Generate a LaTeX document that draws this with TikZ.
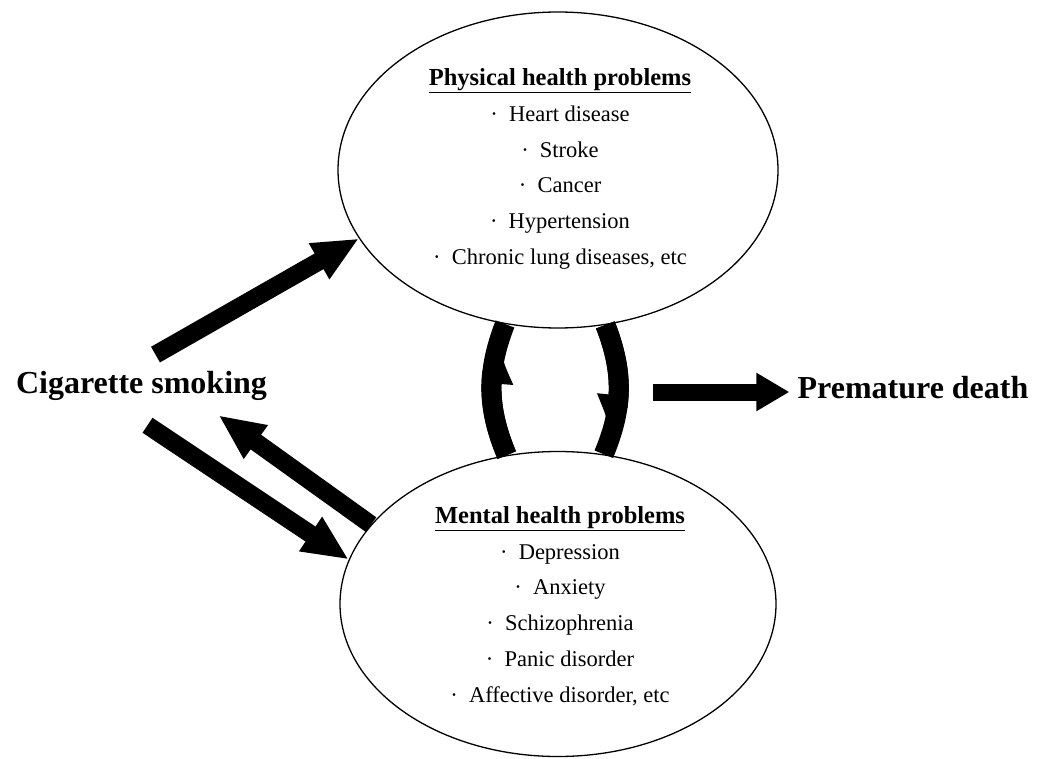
\documentclass[tikz,border=0pt]{standalone}
\usepackage{fontspec}
\setmainfont{Liberation Serif}
\usetikzlibrary{shapes.geometric,arrows.meta,bending,positioning}

\begin{document}
\begin{tikzpicture}[
    x=1pt, y=-1pt,
    problem/.style={
        ellipse, draw, line width=1.3pt,
        minimum width=438pt, minimum height=310pt
    },
    list style/.style={
        align=center, inner sep=0pt,
        font=\fontsize{22.5}{35.8}\selectfont
    },
    big label/.style={
        inner sep=0pt, anchor=base,
        font=\fontsize{32}{38}\selectfont\bfseries
    },
    fat arrow/.style={
        line width=18pt,
        -{Triangle[length=46pt,width=38pt]}
    },
    bent arrow/.style={
        line width=20pt,
        -{Triangle[harpoon,swap,bend,length=50pt,width=38pt]},
        postaction={draw,-}
    }
]

\useasboundingbox (0,0) rectangle (1038,759);

% Ellipses
\node[problem, minimum width=440pt, minimum height=316pt] (physical) at (558,170) {};
\node[problem, minimum width=436pt, minimum height=305pt] (mental) at (558,604) {};

% Lists inside the ellipses
\node[list style] (physicallist) at ([xshift=2pt,yshift=1pt]physical.center) {
    {\fontsize{24.5}{35.8}\selectfont\bfseries\underline{Physical health problems}}\\
    ·~~Heart disease\\
    ·~~Stroke\\
    ·~~Cancer\\
    ·~~Hypertension\\
    ·~~Chronic lung diseases, etc
};

\node[list style] (mentallist) at ([xshift=2pt,yshift=-2pt]mental.center) {
    {\fontsize{24.5}{35.8}\selectfont\bfseries\underline{Mental health problems}}\\
    ·~~Depression\\
    ·~~Anxiety\\
    ·~~Schizophrenia\\
    ·~~Panic disorder\\
    ·~~Affective disorder, etc
};

% Labels left and right
\node[big label] (smoking) at (141.5,393) {Cigarette smoking};
\node[big label] (death) at (913,398) {Premature death};
\coordinate (split) at (653,392);

% Arrows
\draw[fat arrow] ([xshift=14pt,yshift=16pt]smoking.north) -- (physical.199);
\draw[fat arrow] ([xshift=6pt,yshift=-25pt]smoking.south) -- (mental.168);
\draw[fat arrow] (mental.157) -- ([xshift=77pt,yshift=-15pt]smoking.south);
\draw[fat arrow, line width=17pt, -{Triangle[length=33pt,width=36pt]}, shorten >=8pt]
    (split) -- (split -| death.west);

% Curved arrows between the ellipses
\draw[bent arrow] (mental.109) to[bend left=22] (physical.251);
\draw[bent arrow] (physical.287) to[bend left=22] (mental.73);

\end{tikzpicture}
\end{document}
